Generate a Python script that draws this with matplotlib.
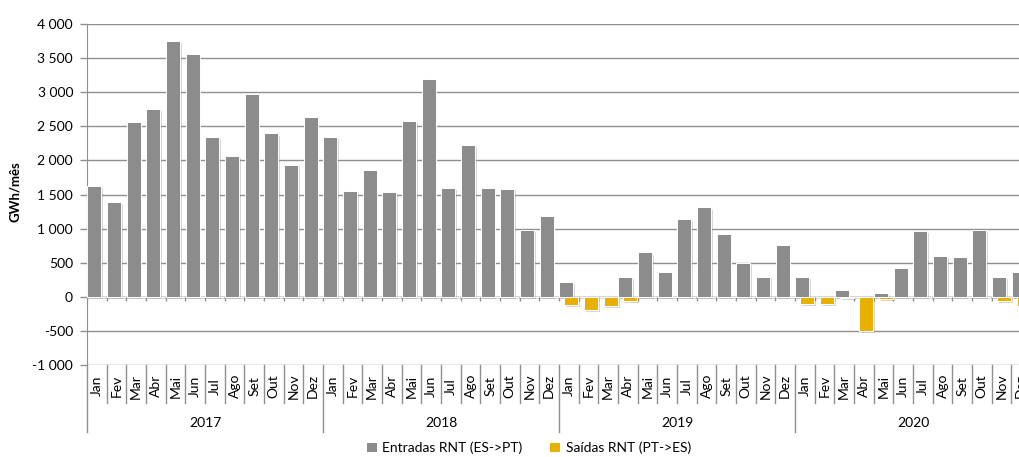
import matplotlib
matplotlib.use("Agg")
import matplotlib.pyplot as plt
import matplotlib.patheffects as pe
from matplotlib.ticker import FuncFormatter, MultipleLocator
from matplotlib.patches import Patch
import numpy as np

plt.rcParams['font.family'] = ['Lato', 'DejaVu Sans']

years = ["2017", "2018", "2019", "2020"]
months = ["Jan", "Fev", "Mar", "Abr", "Mai", "Jun", "Jul", "Ago", "Set", "Out", "Nov", "Dez"]

entradas = [
    1620, 1390, 2565, 2750, 3750, 3565, 2340, 2065, 2980, 2395, 1930, 2630,
    2345, 1550, 1860, 1535, 2580, 3190, 1590, 2225, 1600, 1575, 980, 1190,
    220, 0, 0, 290, 650, 360, 1135, 1310, 915, 490, 290, 755,
    285, 0, 96, 0, 52, 419, 964, 594, 590, 979, 292, 365,
]
saidas = [
    0, 0, 0, 0, 0, 0, 0, 0, 0, 0, 0, 0,
    0, 0, 0, 0, 0, 0, 0, 0, 0, 0, 0, 0,
    -121, -190, -131, -67, 0, 0, 0, 0, 0, 0, 0, 0,
    -107, -107, -22, -505, -30, 0, 0, 0, 0, 0, -67, -130,
]

GRAY = "#8c8c8c"
YELLOW = "#e8b100"
LINE = "#8f8f8f"

fig = plt.figure(figsize=(10.2, 4.57), dpi=100)
ax = fig.add_axes([87/1020, 1-365/457, (1031-87)/1020, (365-24)/457])

n = len(entradas)
x = np.arange(n)
w = 0.71
off = 0.255
shadow = [pe.SimplePatchShadow(offset=(1.3, -1.5), shadow_rgbFace="#8a8a8a", alpha=0.35), pe.Normal()]

ax.bar(x - 0.5 + 0.02, entradas, width=w, align='edge', color=GRAY,
       edgecolor='white', linewidth=0.7, zorder=3, path_effects=shadow)
ax.bar(x - 0.5 + 0.02 + off, saidas, width=w, align='edge', color=YELLOW,
       edgecolor='white', linewidth=0.7, zorder=3, path_effects=shadow)

ax.set_xlim(-0.5, n - 0.5)
ax.set_ylim(-1000, 4000)
ax.yaxis.set_major_locator(MultipleLocator(500))
ax.yaxis.set_major_formatter(FuncFormatter(lambda v, p: f"{int(v):,}".replace(",", " ")))
ax.grid(axis='y', color=LINE, linewidth=1.0, zorder=0)
ax.set_axisbelow(True)
for s in ["top", "right", "bottom"]:
    ax.spines[s].set_visible(False)
ax.spines["left"].set_color(LINE)
ax.spines["left"].set_bounds(-1000, 4000)
ax.tick_params(axis='y', colors=LINE, length=5, width=1, labelsize=10, labelcolor='black', pad=5)
ax.set_xticks([])

# zero axis with small tick marks at month boundaries
ax.axhline(0, color=LINE, linewidth=1.0, zorder=2)
bounds = np.arange(n + 1) - 0.5
ax.vlines(bounds, -60, 0, colors=LINE, linewidth=1.0, zorder=2)

# category axis below
trans = ax.get_xaxis_transform()
for b in bounds:
    is_year = (int(b + 0.5) % 12 == 0)
    ax.plot([b, b], [0, -0.196 if is_year else -0.111], transform=trans,
            color=LINE, linewidth=1.0, clip_on=False)
for i in range(n):
    ax.text(i, -0.062, months[i % 12], transform=trans, rotation=90,
            ha='center', va='center', fontsize=10, clip_on=False)
for j, yr in enumerate(years):
    ax.text(j * 12 + 5.5, -0.17, yr, transform=trans, ha='center', va='center',
            fontsize=10, clip_on=False)

fig.text(15/1020, 1-192/457, "GWh/mês", rotation=90, ha='center', va='center',
         fontsize=9.5, fontweight='bold')

handles = [Patch(facecolor=GRAY, edgecolor='none'), Patch(facecolor=YELLOW, edgecolor='none')]
fig.legend(handles, ["Entradas RNT (ES->PT)", "Saídas RNT (PT->ES)"],
           loc='center', bbox_to_anchor=(529/1020, 1-448/457), ncol=2, frameon=False,
           fontsize=10, handlelength=0.7, handleheight=0.7, handletextpad=0.4, columnspacing=2.0)

fig.savefig("out.png", dpi=100)
